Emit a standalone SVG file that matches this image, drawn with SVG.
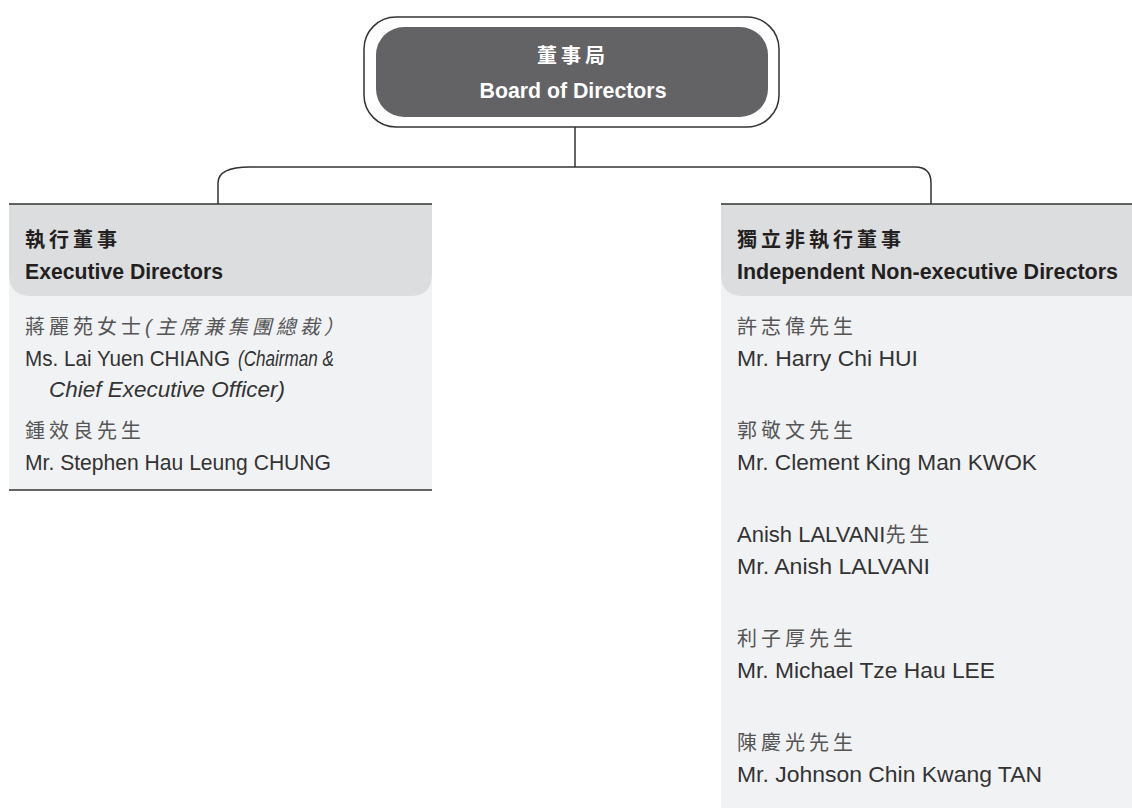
<svg xmlns="http://www.w3.org/2000/svg" width="1132" height="808" viewBox="0 0 1132 808">
<style>
.line{fill:none;stroke:#333;stroke-width:1.5}
.hdr{fill:#dcdddf}
.body{fill:#f1f2f4}
.cjkh{font-family:"Liberation Sans","Noto Sans CJK TC",sans-serif;font-weight:bold;font-size:20px;letter-spacing:4px;fill:#231f20}
.enh{font-family:"Liberation Sans",sans-serif;font-weight:bold;font-size:22px;fill:#231f20}
.cjk{font-family:"Liberation Sans","Noto Sans CJK TC",sans-serif;font-size:20px;letter-spacing:4px;fill:#555}
.en{font-family:"Liberation Sans",sans-serif;font-size:22px;fill:#333}
.it{font-style:italic}
</style>
<rect width="1132" height="808" fill="#fff"/>
<g id="connectors">
<path class="line" d="M575,127 V167"/>
<path class="line" d="M218,204 V183 C218,172 230,167 250,167 H915 Q931,167 931,183 V204"/>
</g>
<g id="board">
<rect x="364" y="17" width="415" height="110" rx="32" fill="#fff" stroke="#333" stroke-width="1.5"/>
<rect x="376" y="27" width="392" height="90" rx="28" fill="#636366"/>
<text x="573" y="63" text-anchor="middle" class="cjkh" style="fill:#fff">董事局</text>
<text x="573" y="98" text-anchor="middle" class="enh" style="fill:#fff" textLength="187" lengthAdjust="spacingAndGlyphs">Board of Directors</text>
</g>
<g id="executive">
<rect x="9" y="204" width="423" height="286" class="body"/>
<path class="hdr" d="M9,204 H432 V274 Q432,296 410,296 H31 Q9,296 9,274 Z"/>
<path class="line" d="M9,204 H432"/>
<path class="line" d="M9,490 H432"/>
<text x="25" y="247" class="cjkh">執行董事</text>
<text x="25" y="279" class="enh" textLength="198" lengthAdjust="spacingAndGlyphs">Executive Directors</text>
<text x="25" y="334" class="cjk">蔣麗苑女士</text>
<text x="145" y="334" class="cjk it">(主席兼集團總裁）</text>
<text x="25" y="366" class="en" textLength="205" lengthAdjust="spacingAndGlyphs">Ms. Lai Yuen CHIANG</text>
<text x="238" y="366" class="en it" textLength="96" lengthAdjust="spacingAndGlyphs">(Chairman &amp;</text>
<text x="49" y="397" class="en it" textLength="236" lengthAdjust="spacingAndGlyphs">Chief Executive Officer)</text>
<text x="25" y="438" class="cjk">鍾效良先生</text>
<text x="25" y="470" class="en" textLength="306" lengthAdjust="spacingAndGlyphs">Mr. Stephen Hau Leung CHUNG</text>
</g>
<g id="independent">
<rect x="721" y="204" width="411" height="604" class="body"/>
<path class="hdr" d="M721,204 H1132 V296 H743 Q721,296 721,274 Z"/>
<path class="line" d="M721,204 H1132"/>
<text x="737" y="247" class="cjkh">獨立非執行董事</text>
<text x="737" y="279" class="enh" textLength="381" lengthAdjust="spacingAndGlyphs">Independent Non-executive Directors</text>
<text x="737" y="334" class="cjk">許志偉先生</text>
<text x="737" y="366" class="en" textLength="181" lengthAdjust="spacingAndGlyphs">Mr. Harry Chi HUI</text>
<text x="737" y="438" class="cjk">郭敬文先生</text>
<text x="737" y="470" class="en" textLength="300" lengthAdjust="spacingAndGlyphs">Mr. Clement King Man KWOK</text>
<text x="737" y="542" class="cjk"><tspan class="en" style="letter-spacing:0">Anish LALVANI</tspan>先生</text>
<text x="737" y="574" class="en" textLength="193" lengthAdjust="spacingAndGlyphs">Mr. Anish LALVANI</text>
<text x="737" y="646" class="cjk">利子厚先生</text>
<text x="737" y="678" class="en" textLength="258" lengthAdjust="spacingAndGlyphs">Mr. Michael Tze Hau LEE</text>
<text x="737" y="750" class="cjk">陳慶光先生</text>
<text x="737" y="782" class="en" textLength="305" lengthAdjust="spacingAndGlyphs">Mr. Johnson Chin Kwang TAN</text>
</g>
</svg>
